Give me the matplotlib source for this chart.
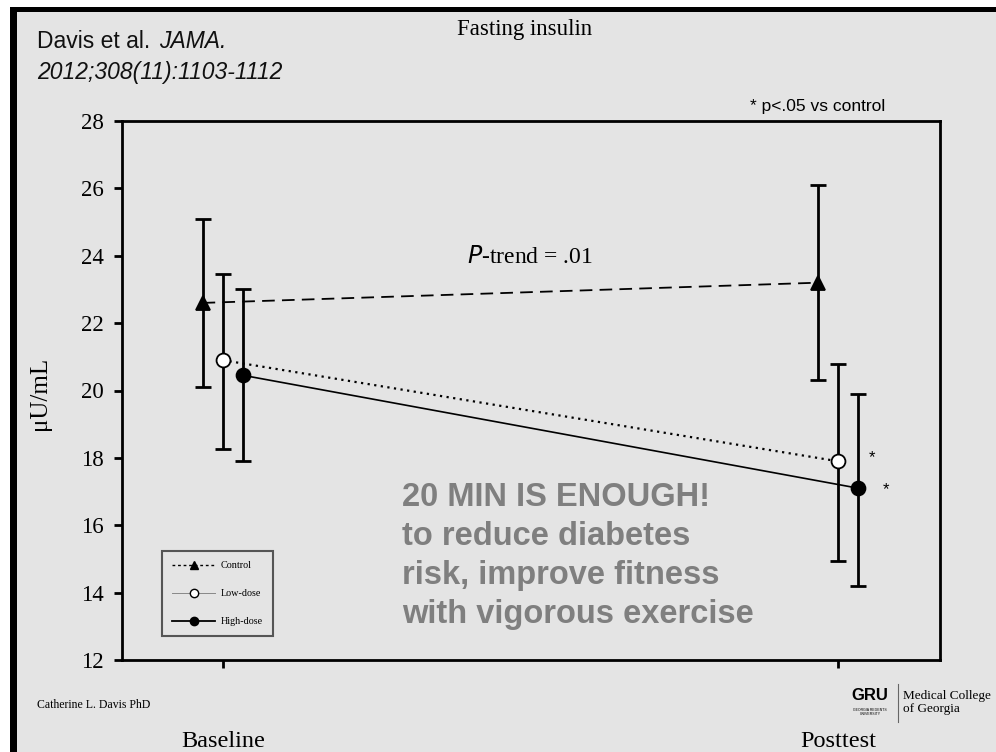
import matplotlib
matplotlib.use("Agg")
import matplotlib.pyplot as plt
from matplotlib.lines import Line2D
from matplotlib.patches import Rectangle
import numpy as np

# ---------------- data ----------------
timepoints = ["Baseline", "Posttest"]
groups = ["Control", "Low-dose", "High-dose"]
control_mean = [22.6, 23.2]
control_lo = [20.1, 20.3]
control_hi = [25.1, 26.1]
low_mean = [20.9, 17.9]
low_lo = [18.25, 14.95]
low_hi = [23.45, 20.8]
high_mean = [20.45, 17.1]
high_lo = [17.9, 14.2]
high_hi = [23.0, 19.9]
y_ticks = [12, 14, 16, 18, 20, 22, 24, 26, 28]

BG = "#e4e4e4"
SERIF = ["Liberation Serif", "DejaVu Serif"]
SANS = ["Liberation Sans", "DejaVu Sans"]

fig = plt.figure(figsize=(9.96, 7.52), dpi=100, facecolor="white")
# slide background with thick black border on left/top
fig.patches.append(Rectangle((10/996, 0), 1, 1 - 7/752, transform=fig.transFigure,
                             facecolor=BG, edgecolor="none", zorder=-10))
fig.patches.append(Rectangle((10/996, 0), 7/996, 1 - 7/752, transform=fig.transFigure,
                             facecolor="black", edgecolor="none", zorder=-9))
fig.patches.append(Rectangle((10/996, 1 - 12/752), 1, 5/752, transform=fig.transFigure,
                             facecolor="black", edgecolor="none", zorder=-9))

ax = fig.add_axes([122/996, 92/752, 818/996, 539/752])
ax.set_facecolor(BG)

x = np.arange(len(timepoints))
off = 0.033

def draw(xs, mean, lo, hi, marker, mfc, ls, lw, ms):
    mean = np.array(mean); lo = np.array(lo); hi = np.array(hi)
    ax.plot(xs, mean, linestyle=ls, color="black", lw=lw, zorder=2)
    ax.errorbar(xs, mean, yerr=[mean - lo, hi - mean], fmt="none", ecolor="black",
                elinewidth=2.0, capsize=6, capthick=2.0, zorder=3)
    ax.plot(xs, mean, linestyle="none", marker=marker, markersize=ms,
            markerfacecolor=mfc, markeredgecolor="black", markeredgewidth=1.3, zorder=4)

draw(x - off, control_mean, control_lo, control_hi, "^", "black", (0, (7, 4)), 1.3, 10)
draw(x, low_mean, low_lo, low_hi, "o", "white", (0, (1, 2)), 1.6, 10)
draw(x + off, high_mean, high_lo, high_hi, "o", "black", "-", 1.2, 10)

ax.set_xlim(-0.164, 1.166)
ax.set_ylim(12, 28)
ax.set_yticks(y_ticks)
ax.set_yticklabels([str(v) for v in y_ticks], fontfamily=SERIF, fontsize=16.5)
ax.set_xticks(x)
ax.set_xticklabels(timepoints, fontfamily=SERIF, fontsize=17.5)
ax.tick_params(axis="y", direction="out", length=6, width=2, pad=7)
ax.tick_params(axis="x", direction="out", length=6, width=2, pad=45)
for s in ax.spines.values():
    s.set_linewidth(2)
    s.set_color("black")

# legend
handles = [
    Line2D([], [], color="black", ls=(0, (2, 2)), lw=1.0, marker="^", ms=6, mfc="black"),
    Line2D([], [], color="#888888", ls="-", lw=0.7, marker="o", ms=6, mfc="white", mec="black"),
    Line2D([], [], color="black", ls="-", lw=1.3, marker="o", ms=6, mfc="black"),
]
leg = ax.legend(handles, groups, loc="lower left", bbox_to_anchor=(0.049, 0.044),
                prop={"family": SERIF, "size": 7.3}, frameon=True, fancybox=False,
                edgecolor="#555555", facecolor=BG, framealpha=1, handlelength=4.2,
                labelspacing=1.85, borderpad=1.0, handletextpad=0.6, borderaxespad=0)
leg.get_frame().set_linewidth(1.5)

# annotations in axes
ax.text(0.5, 23.95, r"$\it{P}$-trend = .01", fontfamily=SERIF, fontsize=17, ha="center", va="center")
ax.text(1.055, 18.0, "*", fontsize=12, ha="center", va="center", fontfamily=SANS)
ax.text(1.078, 17.05, "*", fontsize=12, ha="center", va="center", fontfamily=SANS)

# figure texts
fig.text(525/996, 1 - 30/752, "Fasting insulin", fontfamily=SERIF, fontsize=16.5, ha="center", va="center")
t1 = fig.text(37/996, 1 - 42/752, "Davis et al. ", fontfamily=SANS, fontsize=16.5,
              ha="left", va="center", color="#111111")
ax.annotate("JAMA.", xy=(1, 0.5), xycoords=t1, xytext=(2, 0), textcoords="offset points",
            fontfamily=SANS, fontsize=16.5, style="italic", ha="left", va="center",
            color="#111111", annotation_clip=False)
fig.text(37/996, 1 - 73/752, "2012;308(11):1103-1112", fontfamily=SANS, fontsize=16.5, style="italic",
         ha="left", va="center", color="#111111")
fig.text(885/996, 1 - 106/752, "* p<.05 vs control", fontfamily=SANS, fontsize=12.5, ha="right", va="center")
fig.text(40/996, 1 - 393/752, "μU/mL", fontfamily=SERIF, fontsize=18, rotation=90, ha="center", va="center")

fig.text(402/996, 1 - 556/752,
         "20 MIN IS ENOUGH!\nto reduce diabetes\nrisk, improve fitness\nwith vigorous exercise",
         fontfamily=SANS, fontsize=23.5, fontweight="bold", color="#7f7f7f",
         ha="left", va="center", linespacing=1.32)

fig.text(37/996, 1 - 705/752, "Catherine L. Davis PhD", fontfamily=SERIF, fontsize=8.5, ha="left", va="center")

# GRU logo approximation
fig.text(870/996, 1 - 696/752, "GRU", fontfamily=SANS, fontsize=12, fontweight="bold", ha="center", va="center")
fig.text(870/996, 1 - 712/752, "GEORGIA REGENTS\nUNIVERSITY", fontfamily=SANS, fontsize=2.5, ha="center", va="center")
fig.add_artist(Line2D([898/996, 898/996], [1 - 684/752, 1 - 722/752], color="#666666", lw=0.8))
fig.text(903/996, 1 - 696/752, "Medical College", fontfamily=SERIF, fontsize=9.5, ha="left", va="center")
fig.text(903/996, 1 - 709/752, "of Georgia", fontfamily=SERIF, fontsize=9.5, ha="left", va="center")

fig.savefig("out.png", dpi=100, facecolor=fig.get_facecolor())
